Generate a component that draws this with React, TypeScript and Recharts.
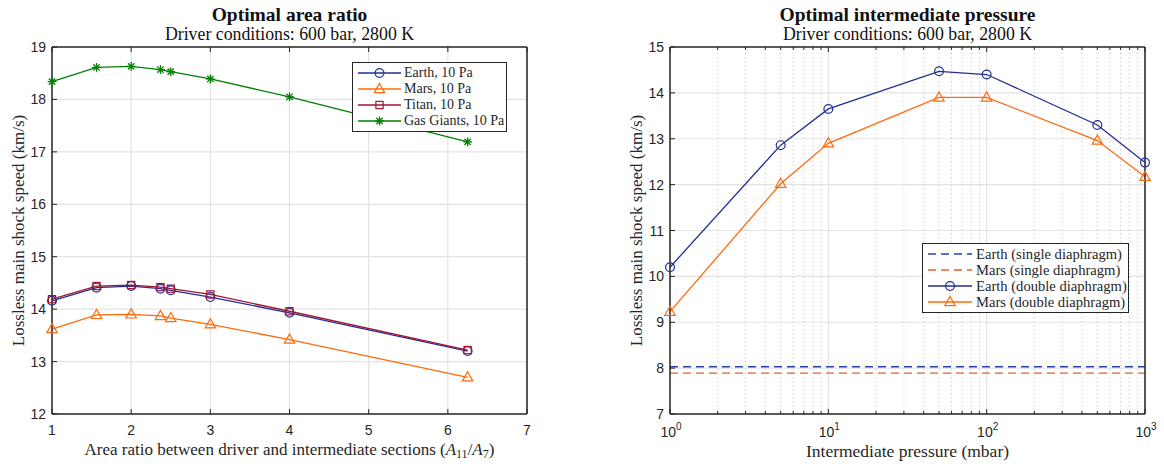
import React from 'react';
import { LineChart, Line, XAxis, YAxis, CartesianGrid, ReferenceLine, Label } from 'recharts';

// ---------- Left panel data ----------
const areaRatio = [1, 1.5625, 2, 2.37, 2.5, 3, 4, 6.25];
const earthArea = [14.16, 14.41, 14.44, 14.39, 14.36, 14.23, 13.93, 13.2];
const marsArea = [13.62, 13.89, 13.9, 13.87, 13.83, 13.71, 13.42, 12.7];
const titanArea = [14.19, 14.44, 14.46, 14.42, 14.39, 14.28, 13.96, 13.22];
const gasArea = [18.34, 18.61, 18.63, 18.57, 18.53, 18.39, 18.05, 17.19];
const leftXTicks = [1, 2, 3, 4, 5, 6, 7];
const leftYTicks = [12, 13, 14, 15, 16, 17, 18, 19];

// ---------- Right panel data ----------
const pressure = [1, 5, 10, 50, 100, 500, 1000];
const earthDouble = [10.2, 12.86, 13.65, 14.47, 14.4, 13.3, 12.48];
const marsDouble = [9.23, 12.02, 12.9, 13.9, 13.9, 12.96, 12.17];
const earthSingle = [8.03, 8.03, 8.03, 8.03, 8.03, 8.03, 8.03];
const marsSingle = [7.89, 7.89, 7.89, 7.89, 7.89, 7.89, 7.89];
const rightMajorTicks = [1, 10, 100, 1000];
const rightMinorTicks = [2, 3, 4, 5, 6, 7, 8, 9, 20, 30, 40, 50, 60, 70, 80, 90, 200, 300, 400, 500, 600, 700, 800, 900];
const rightYTicks = [7, 8, 9, 10, 11, 12, 13, 14, 15];
const rightAllXTicks = [...rightMajorTicks, ...rightMinorTicks].sort((a, b) => a - b);

const leftData = areaRatio.map((x, i) => ({
  x,
  earth: earthArea[i],
  mars: marsArea[i],
  titan: titanArea[i],
  gas: gasArea[i],
}));
const rightData = pressure.map((p, i) => ({
  p,
  earthD: earthDouble[i],
  marsD: marsDouble[i],
  earthS: earthSingle[i],
  marsS: marsSingle[i],
}));

const C_EARTH = '#1f2f96';
const C_MARS = '#ff6a0d';
const C_TITAN = '#a2142f';
const C_GAS = '#008000';
const C_EARTH_S = '#2a42a6';
const C_MARS_S = '#ec5d2a';
const AXIS = '#262626';
const GRID = '#e3e3e3';
const SERIF = '"Liberation Serif", "Times New Roman", serif';
const SANS = '"Liberation Sans", Arial, sans-serif';

function Circle({ cx, cy, color }: any) {
  return <circle cx={cx} cy={cy} r={4.4} fill="none" stroke={color} strokeWidth={1.2} />;
}
function Tri({ cx, cy, color }: any) {
  const pts = `${cx},${cy - 5.6} ${cx - 5.2},${cy + 3.6} ${cx + 5.2},${cy + 3.6}`;
  return <polygon points={pts} fill="none" stroke={color} strokeWidth={1.2} />;
}
function Sq({ cx, cy, color }: any) {
  return <rect x={cx - 3.6} y={cy - 3.6} width={7.2} height={7.2} fill="none" stroke={color} strokeWidth={1.2} />;
}
function Star({ cx, cy, color }: any) {
  const r = 4.4;
  const d = r * 0.72;
  return (
    <g stroke={color} strokeWidth={1.3}>
      <line x1={cx - r} y1={cy} x2={cx + r} y2={cy} />
      <line x1={cx} y1={cy - r} x2={cx} y2={cy + r} />
      <line x1={cx - d} y1={cy - d} x2={cx + d} y2={cy + d} />
      <line x1={cx - d} y1={cy + d} x2={cx + d} y2={cy - d} />
    </g>
  );
}

const mk = (Comp: any, color: string) => (props: any) => {
  if (props.cx == null || props.cy == null) return <g key={`m-${props.index}`} />;
  return (
    <g key={`m-${props.index}`}>
      <Comp cx={props.cx} cy={props.cy} color={color} />
    </g>
  );
};

const isDecade = (v: number) => Math.abs(Math.log10(v) - Math.round(Math.log10(v))) < 1e-9;

// Bottom ticks: (x, y) is the axis line position (tickSize 0, tickMargin 0)
const LinBottomTick = (props: any) => {
  const { x, y, payload } = props;
  return (
    <g>
      <line x1={x} y1={y} x2={x} y2={y - 5} stroke={AXIS} strokeWidth={1} />
      <text x={x} y={y + 16} textAnchor="middle" dominantBaseline="central" fontFamily={SANS} fontSize={14} fill={AXIS}>
        {payload.value}
      </text>
    </g>
  );
};
const LogBottomTick = (props: any) => {
  const { x, y, payload } = props;
  const major = isDecade(payload.value);
  if (!major) return <line x1={x} y1={y} x2={x} y2={y - 3} stroke={AXIS} strokeWidth={1} />;
  const exp = Math.round(Math.log10(payload.value));
  return (
    <g>
      <line x1={x} y1={y} x2={x} y2={y - 5} stroke={AXIS} strokeWidth={1} />
      <text x={x + 1} y={y + 18} textAnchor="middle" dominantBaseline="central" fontFamily={SANS} fontSize={14} fill={AXIS}>
        <tspan>10</tspan>
        <tspan dy={-6} fontSize={10}>{exp}</tspan>
      </text>
    </g>
  );
};
const LinTopTick = (props: any) => {
  const { x, y } = props;
  return <line x1={x} y1={y} x2={x} y2={y + 5} stroke={AXIS} strokeWidth={1} />;
};
const LogTopTick = (props: any) => {
  const { x, y, payload } = props;
  const len = isDecade(payload.value) ? 5 : 3;
  return <line x1={x} y1={y} x2={x} y2={y + len} stroke={AXIS} strokeWidth={1} />;
};
const LeftTick = (props: any) => {
  const { x, y, payload } = props;
  return (
    <g>
      <line x1={x} y1={y} x2={x + 5} y2={y} stroke={AXIS} strokeWidth={1} />
      <text x={x - 6} y={y} textAnchor="end" dominantBaseline="central" fontFamily={SANS} fontSize={14} fill={AXIS}>
        {payload.value}
      </text>
    </g>
  );
};
const RightTick = (props: any) => {
  const { x, y } = props;
  return <line x1={x} y1={y} x2={x - 5} y2={y} stroke={AXIS} strokeWidth={1} />;
};

const yLabel = (props: any) => {
  const vb = props.viewBox || {};
  const cx = vb.x + vb.width - 34;
  const cy = vb.y + vb.height / 2;
  return (
    <text
      x={cx}
      y={cy}
      transform={`rotate(-90, ${cx}, ${cy})`}
      textAnchor="middle"
      dominantBaseline="central"
      fontFamily={SERIF}
      fontSize={17}
      fill={AXIS}
    >
      Lossless main shock speed (km/s)
    </text>
  );
};

const leftXLabel = (props: any) => {
  const vb = props.viewBox || {};
  return (
    <text x={vb.x + vb.width / 2} y={vb.y + 41} textAnchor="middle" fontFamily={SERIF} fontSize={17} fill={AXIS}>
      <tspan>Area ratio between driver and intermediate sections (</tspan>
      <tspan fontStyle="italic">A</tspan>
      <tspan fontSize={12} dy={3}>11</tspan>
      <tspan dy={-3}>/</tspan>
      <tspan fontStyle="italic">A</tspan>
      <tspan fontSize={12} dy={3}>7</tspan>
      <tspan dy={-3}>)</tspan>
    </text>
  );
};

const rightXLabel = (props: any) => {
  const vb = props.viewBox || {};
  return (
    <text x={vb.x + vb.width / 2} y={vb.y + 43} textAnchor="middle" fontFamily={SERIF} fontSize={17.5} fill={AXIS}>
      Intermediate pressure (mbar)
    </text>
  );
};

function LegendBox({ left, top, width, items, lineStart, lineEnd, textLeft, fontSize }: any) {
  return (
    <div
      style={{
        position: 'absolute',
        left,
        top,
        width,
        boxSizing: 'border-box',
        border: `1.3px solid ${AXIS}`,
        background: '#fff',
        paddingTop: 2,
        paddingBottom: 2,
      }}
    >
      {items.map((it: any, i: number) => (
        <div key={i} style={{ position: 'relative', height: 16 }}>
          <svg width={lineEnd + 2} height={16} style={{ position: 'absolute', left: 0, top: 0 }}>
            <line
              x1={lineStart}
              y1={8}
              x2={lineEnd}
              y2={8}
              stroke={it.color}
              strokeWidth={1.3}
              strokeDasharray={it.dash || undefined}
            />
            {it.marker ? <it.marker cx={(lineStart + lineEnd) / 2} cy={8} color={it.color} /> : null}
          </svg>
          <div
            style={{
              position: 'absolute',
              left: textLeft,
              top: 0,
              height: 16,
              lineHeight: '16px',
              fontFamily: SERIF,
              fontSize,
              color: AXIS,
              whiteSpace: 'nowrap',
            }}
          >
            {it.label}
          </div>
        </div>
      ))}
    </div>
  );
}

function Title({ center, title, subtitle }: any) {
  return (
    <>
      <div
        style={{
          position: 'absolute',
          left: center - 250,
          width: 500,
          top: 5,
          lineHeight: '20px',
          textAlign: 'center',
          fontFamily: SERIF,
          fontWeight: 'bold',
          fontSize: 19.5,
          color: '#111',
        }}
      >
        {title}
      </div>
      <div
        style={{
          position: 'absolute',
          left: center - 250,
          width: 500,
          top: 24,
          lineHeight: '20px',
          textAlign: 'center',
          fontFamily: SERIF,
          fontSize: 17.8,
          color: '#111',
        }}
      >
        {subtitle}
      </div>
    </>
  );
}

const axisLineProps = { stroke: AXIS, strokeWidth: 1.5 };

export default function App() {
  return (
    <div style={{ position: 'absolute', left: 0, top: 0, width: 1164, height: 467, background: '#fff', overflow: 'hidden' }}>
      {/* Left panel */}
      <div style={{ position: 'absolute', left: 0, top: 0 }}>
        <LineChart width={580} height={467} data={leftData} margin={{ top: 0, right: 0, bottom: 0, left: 0 }}>
          <XAxis
            xAxisId="b"
            dataKey="x"
            type="number"
            domain={[1, 7]}
            ticks={leftXTicks}
            interval={0}
            height={53}
            tickSize={0}
            tickMargin={0}
            tick={<LinBottomTick />}
            tickLine={false}
            axisLine={axisLineProps}
          >
            <Label content={leftXLabel} />
          </XAxis>
          <XAxis
            xAxisId="t"
            orientation="top"
            dataKey="x"
            type="number"
            domain={[1, 7]}
            ticks={leftXTicks}
            interval={0}
            height={47}
            tickSize={0}
            tickMargin={0}
            tick={<LinTopTick />}
            tickLine={false}
            axisLine={axisLineProps}
          />
          <YAxis
            yAxisId="l"
            type="number"
            domain={[12, 19]}
            ticks={leftYTicks}
            interval={0}
            width={52}
            tickSize={0}
            tickMargin={0}
            tick={<LeftTick />}
            tickLine={false}
            axisLine={axisLineProps}
          >
            <Label content={yLabel} />
          </YAxis>
          <YAxis
            yAxisId="r"
            orientation="right"
            type="number"
            domain={[12, 19]}
            ticks={leftYTicks}
            interval={0}
            width={53}
            tickSize={0}
            tickMargin={0}
            tick={<RightTick />}
            tickLine={false}
            axisLine={axisLineProps}
          />
          <CartesianGrid xAxisId="b" yAxisId="l" stroke={GRID} strokeWidth={1.2} />
          <Line xAxisId="b" yAxisId="l" dataKey="earth" stroke={C_EARTH} strokeWidth={1.3} dot={mk(Circle, C_EARTH)} isAnimationActive={false} />
          <Line xAxisId="b" yAxisId="l" dataKey="mars" stroke={C_MARS} strokeWidth={1.3} dot={mk(Tri, C_MARS)} isAnimationActive={false} />
          <Line xAxisId="b" yAxisId="l" dataKey="titan" stroke={C_TITAN} strokeWidth={1.3} dot={mk(Sq, C_TITAN)} isAnimationActive={false} />
          <Line xAxisId="b" yAxisId="l" dataKey="gas" stroke={C_GAS} strokeWidth={1.3} dot={mk(Star, C_GAS)} isAnimationActive={false} />
        </LineChart>
      </div>

      {/* Right panel */}
      <div style={{ position: 'absolute', left: 600, top: 0 }}>
        <LineChart width={564} height={467} data={rightData} margin={{ top: 0, right: 0, bottom: 0, left: 0 }}>
          <XAxis
            xAxisId="b"
            dataKey="p"
            type="number"
            scale="log"
            domain={[1, 1000]}
            ticks={rightAllXTicks}
            interval={0}
            height={53}
            tickSize={0}
            tickMargin={0}
            tick={<LogBottomTick />}
            tickLine={false}
            axisLine={axisLineProps}
          >
            <Label content={rightXLabel} />
          </XAxis>
          <XAxis
            xAxisId="t"
            orientation="top"
            dataKey="p"
            type="number"
            scale="log"
            domain={[1, 1000]}
            ticks={rightAllXTicks}
            interval={0}
            height={47}
            tickSize={0}
            tickMargin={0}
            tick={<LogTopTick />}
            tickLine={false}
            axisLine={axisLineProps}
          />
          <YAxis
            yAxisId="l"
            type="number"
            domain={[7, 15]}
            ticks={rightYTicks}
            interval={0}
            width={70}
            tickSize={0}
            tickMargin={0}
            tick={<LeftTick />}
            tickLine={false}
            axisLine={axisLineProps}
          >
            <Label content={yLabel} />
          </YAxis>
          <YAxis
            yAxisId="r"
            orientation="right"
            type="number"
            domain={[7, 15]}
            ticks={rightYTicks}
            interval={0}
            width={19}
            tickSize={0}
            tickMargin={0}
            tick={<RightTick />}
            tickLine={false}
            axisLine={axisLineProps}
          />
          {rightMinorTicks.map((v) => (
            <ReferenceLine
              key={`mg-${v}`}
              xAxisId="b"
              yAxisId="l"
              x={v}
              stroke="#c4c4c4"
              strokeWidth={1}
              strokeDasharray="1 3"
            />
          ))}
          {rightMajorTicks.map((v) => (
            <ReferenceLine key={`Mg-${v}`} xAxisId="b" yAxisId="l" x={v} stroke={GRID} strokeWidth={1.2} />
          ))}
          <CartesianGrid xAxisId="b" yAxisId="l" stroke={GRID} strokeWidth={1.2} vertical={false} />
          <Line xAxisId="b" yAxisId="l" dataKey="earthS" stroke={C_EARTH_S} strokeWidth={1.3} strokeDasharray="8 5" dot={false} isAnimationActive={false} />
          <Line xAxisId="b" yAxisId="l" dataKey="marsS" stroke={C_MARS_S} strokeWidth={1.3} strokeDasharray="8 5" dot={false} isAnimationActive={false} />
          <Line xAxisId="b" yAxisId="l" dataKey="earthD" stroke={C_EARTH} strokeWidth={1.3} dot={mk(Circle, C_EARTH)} isAnimationActive={false} />
          <Line xAxisId="b" yAxisId="l" dataKey="marsD" stroke={C_MARS} strokeWidth={1.3} dot={mk(Tri, C_MARS)} isAnimationActive={false} />
        </LineChart>
      </div>

      <Title center={289.5} title="Optimal area ratio" subtitle="Driver conditions: 600 bar, 2800 K" />
      <Title center={907.5} title="Optimal intermediate pressure" subtitle="Driver conditions: 600 bar, 2800 K" />

      <LegendBox
        left={352}
        top={62}
        width={155}
        lineStart={5}
        lineEnd={48}
        textLeft={51}
        fontSize={14}
        items={[
          { label: 'Earth, 10 Pa', color: C_EARTH, marker: Circle },
          { label: 'Mars, 10 Pa', color: C_MARS, marker: Tri },
          { label: 'Titan, 10 Pa', color: C_TITAN, marker: Sq },
          { label: 'Gas Giants, 10 Pa', color: C_GAS, marker: Star },
        ]}
      />
      <LegendBox
        left={922}
        top={243}
        width={207}
        lineStart={5}
        lineEnd={49}
        textLeft={53}
        fontSize={14.6}
        items={[
          { label: 'Earth (single diaphragm)', color: C_EARTH_S, dash: '8 5' },
          { label: 'Mars (single diaphragm)', color: C_MARS_S, dash: '8 5' },
          { label: 'Earth (double diaphragm)', color: C_EARTH, marker: Circle },
          { label: 'Mars (double diaphragm)', color: C_MARS, marker: Tri },
        ]}
      />
    </div>
  );
}
